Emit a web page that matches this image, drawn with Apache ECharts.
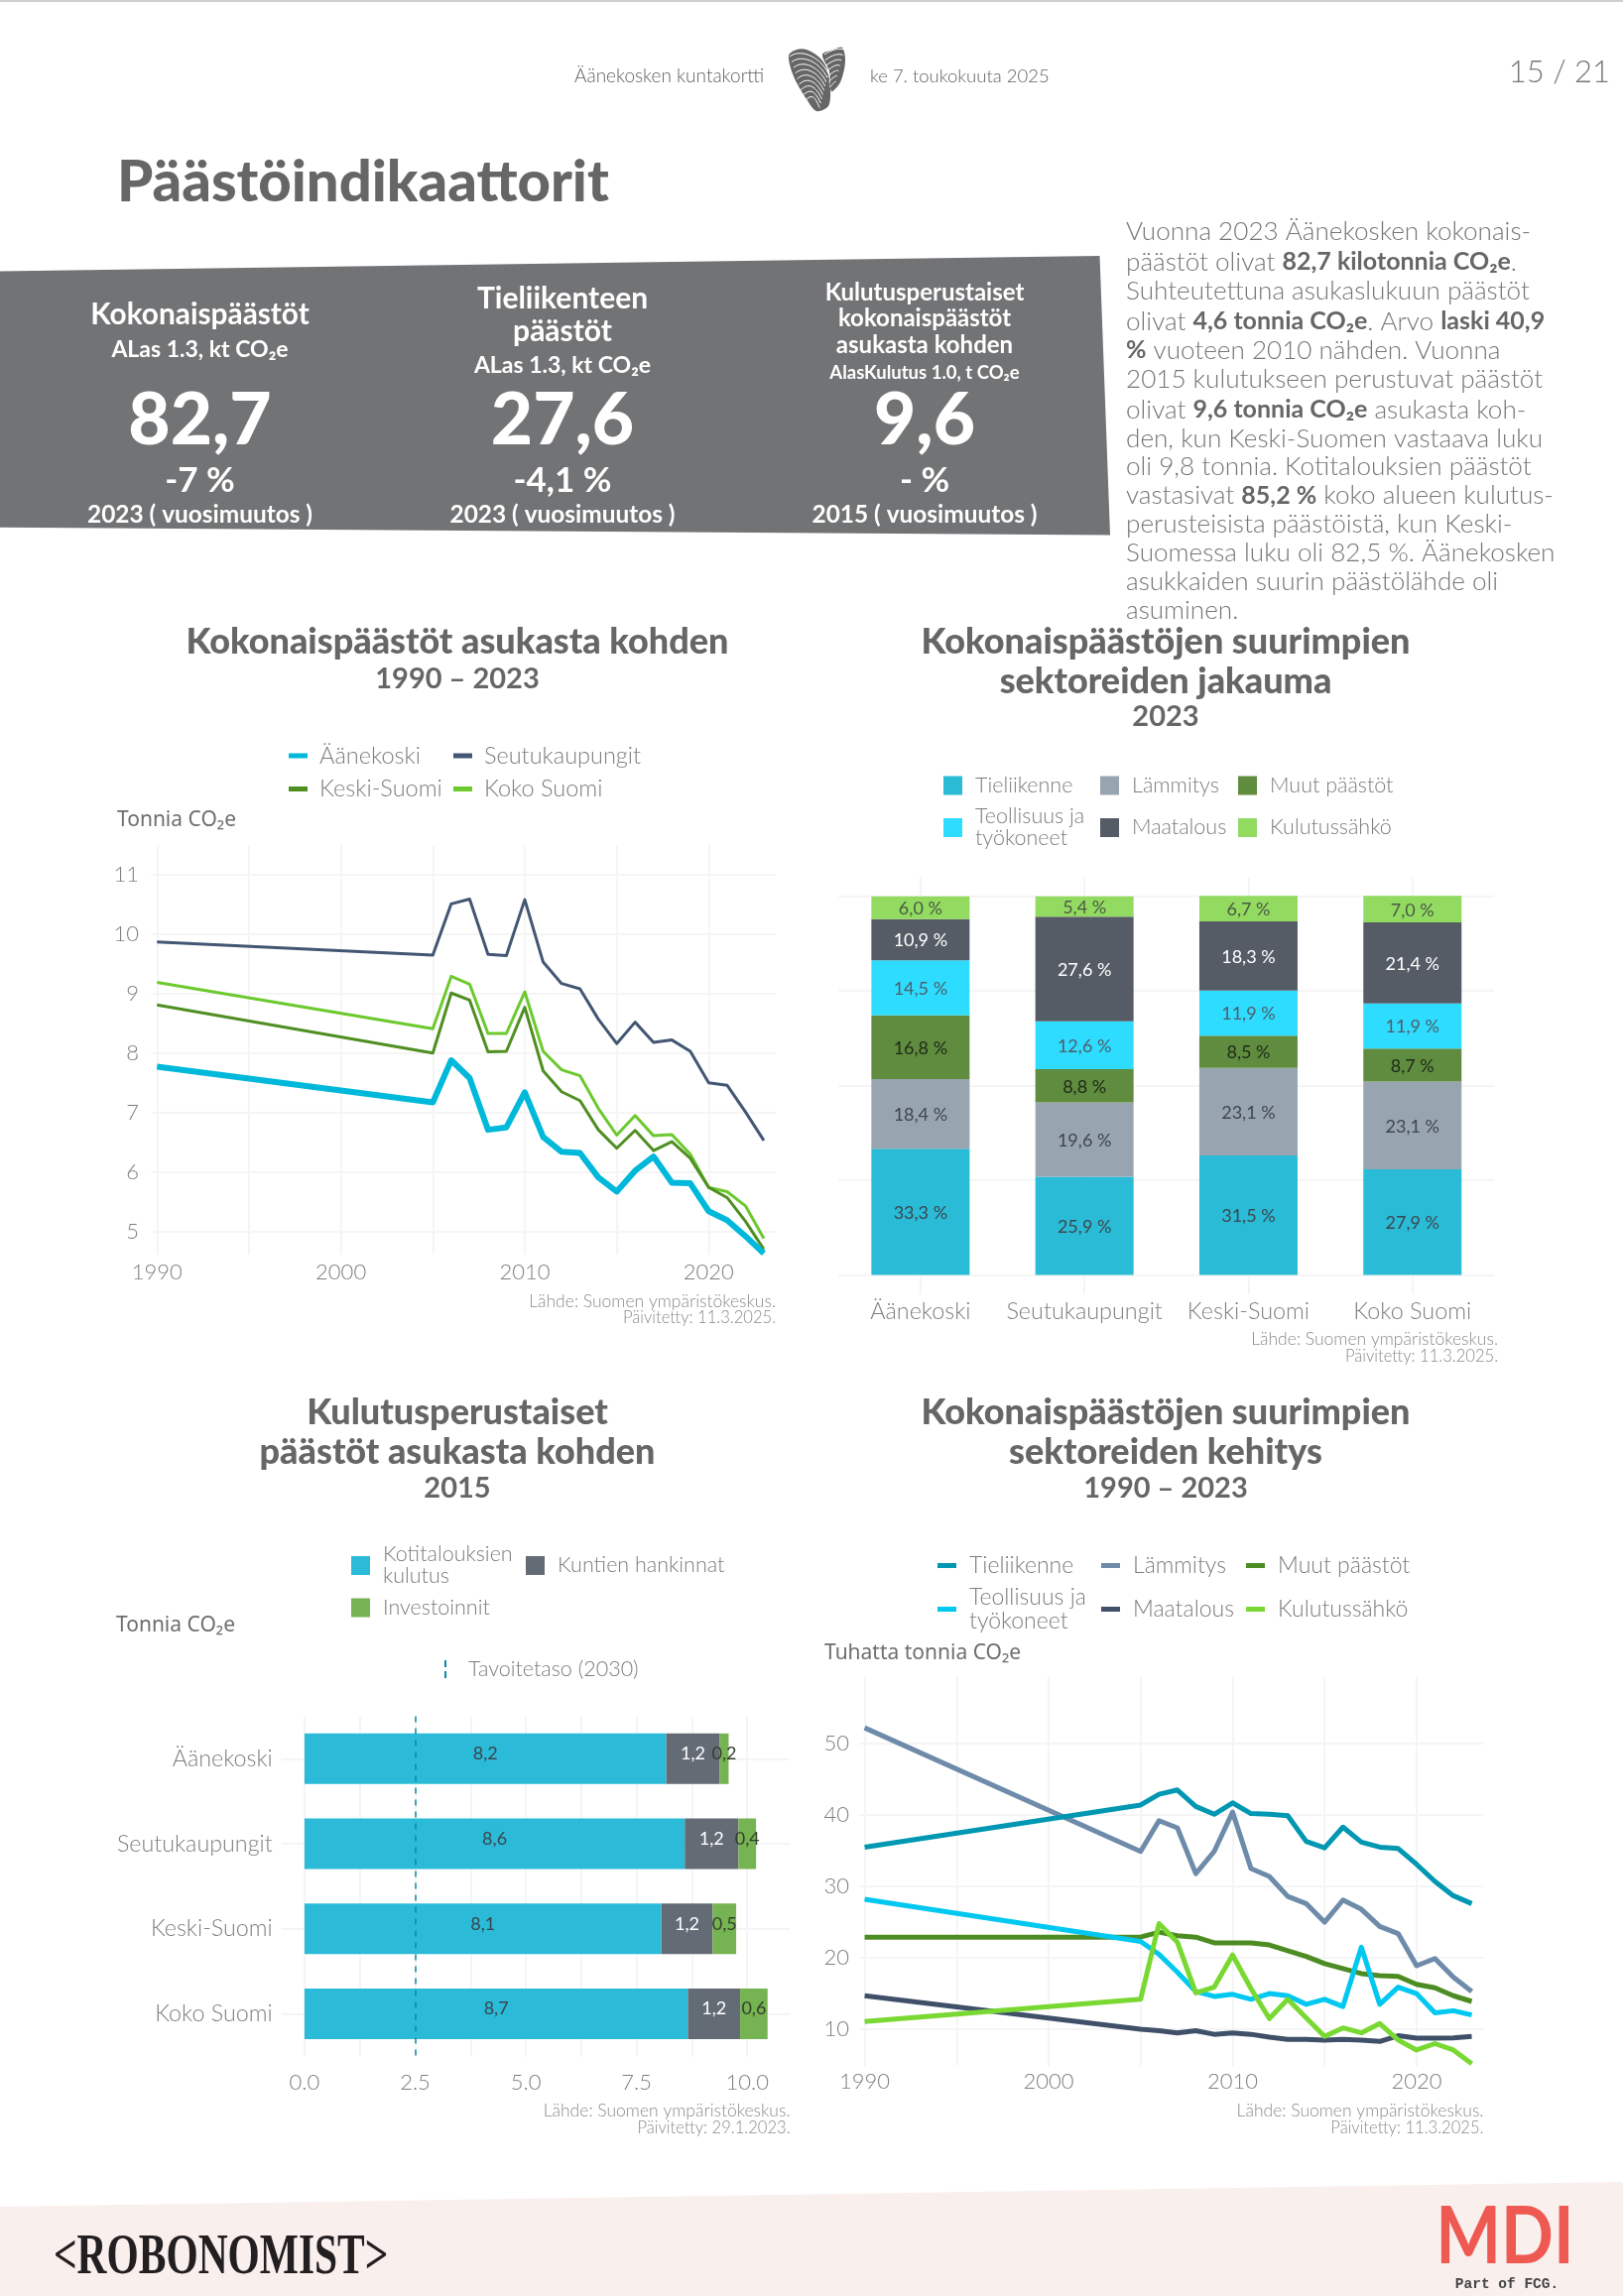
<!DOCTYPE html>
<html lang="fi"><head><meta charset="utf-8"><title>Päästöindikaattorit</title>
<style>html,body{margin:0;padding:0;background:#fff}#c{width:1636px;height:2315px}</style>
<script src="https://cdn.jsdelivr.net/npm/echarts@6/dist/echarts.min.js"></script></head>
<body><div id="c"></div>
<script>
// ---------- data ----------
const years = [1990,2005,2006,2007,2008,2009,2010,2011,2012,2013,2014,2015,2016,2017,2018,2019,2020,2021,2022,2023];
const perCapAanekoski = [7.77,7.17,7.88,7.58,6.71,6.75,7.34,6.59,6.34,6.32,5.91,5.67,6.02,6.26,5.82,5.81,5.34,5.19,4.92,4.63];
const perCapSeutu     = [9.87,9.65,10.51,10.59,9.66,9.64,10.58,9.53,9.17,9.08,8.57,8.16,8.52,8.18,8.22,8.03,7.5,7.46,7.01,6.53];
const perCapKeski     = [8.81,8.0,9.01,8.89,8.02,8.03,8.77,7.7,7.35,7.2,6.71,6.4,6.7,6.36,6.51,6.23,5.74,5.57,5.17,4.7];
const perCapKoko      = [9.19,8.41,9.29,9.16,8.33,8.33,9.03,8.03,7.72,7.62,7.07,6.62,6.95,6.61,6.63,6.3,5.74,5.67,5.43,4.88];

const regions = ['Äänekoski','Seutukaupungit','Keski-Suomi','Koko Suomi'];
const shareTieliikenne = [33.3,25.9,31.5,27.9];
const shareLammitys    = [18.4,19.6,23.1,23.1];
const shareMuut        = [16.8,8.8,8.5,8.7];
const shareTeollisuus  = [14.5,12.6,11.9,11.9];
const shareMaatalous   = [10.9,27.6,18.3,21.4];
const shareSahko       = [6.0,5.4,6.7,7.0];

const consKotitaloudet = [8.17,8.59,8.06,8.66];
const consKunnat       = [1.21,1.21,1.16,1.18];
const consInvestoinnit = [0.2,0.4,0.53,0.62];
const targetLevel = 2.5;

const secTieliikenne = [35.5,41.4,42.9,43.5,41.2,40.1,41.7,40.2,40.1,39.9,36.3,35.4,38.3,36.2,35.5,35.3,33.1,30.7,28.7,27.6];
const secLammitys    = [52.2,34.9,39.2,38.2,31.8,34.9,40.4,32.5,31.4,28.6,27.6,25.0,28.1,26.8,24.4,23.4,18.9,19.9,17.3,15.3];
const secMuut        = [22.9,22.9,23.6,23.1,22.9,22.1,22.1,22.1,21.8,21.0,20.2,19.2,18.5,17.8,17.5,17.4,16.3,15.8,14.7,13.9];
const secTeollisuus  = [28.2,22.3,20.5,18.0,15.3,14.6,14.9,14.2,15.0,14.7,13.5,14.2,13.2,21.5,13.5,15.9,15.0,12.3,12.6,12.0];
const secMaatalous   = [14.7,10.0,9.8,9.5,9.8,9.3,9.5,9.3,8.9,8.6,8.6,8.5,8.6,8.5,8.3,9.1,8.75,8.75,8.8,9.0];
const secSahko       = [11.1,14.2,24.8,22.2,15.1,15.9,20.4,15.7,11.5,14.2,11.6,9.0,10.2,9.5,10.8,8.5,7.1,8.0,7.1,5.2];

const yearTicks = [1990,1995,2000,2005,2010,2015,2020];
const yearLabels = [1990,2000,2010,2020];
const perCapTicks = [5,6,7,8,9,10,11];
const shareTicks = [0,25,50,75,100];
const consTicks = [0,1.25,2.5,3.75,5,6.25,7.5,8.75,10];
const consLabels = [0,2.5,5,7.5,10];
const secTicks = [10,20,30,40,50];

// ---------- style ----------
const F = 'Lato, "Noto Sans", sans-serif';
const GRID = '#f5f5f6';
const TICK = '#7e7e7e';
const sl = {show:true, lineStyle:{color:GRID, width:2}};

function valAxis(gridIndex,min,max,ticks,labels,fmt,fs,margin,extra,pad){
  return Object.assign({type:'value',gridIndex,min,max,axisLine:{show:false},
    axisTick:{show:false,customValues:ticks},splitLine:sl,
    axisLabel:{customValues:labels,formatter:fmt,color:TICK,fontSize:fs,fontFamily:F,fontWeight:300,margin,hideOverlap:false,padding:pad||0}},extra||{});
}
const plain = v => String(v);
const pct = v => v.toFixed(1).replace('.',',')+' %';
const dec = v => v.toFixed(1).replace('.',',');

function lineSeries(name,vals,color,width,idx){
  return {type:'line',name,xAxisIndex:idx,yAxisIndex:idx,data:years.map((y,i)=>[y,vals[i]]),
    showSymbol:false,symbol:'none',smooth:false,lineStyle:{color,width,join:'round'},itemStyle:{color},silent:true};
}
function stackBar(name,vals,color,labelColor,idx,stack,fmt,barWidth,offset,fs){
  return {type:'bar',name,stack,xAxisIndex:idx,yAxisIndex:idx,data:vals,barWidth,silent:true,
    itemStyle:{color},
    label:{show:true,position:'inside',formatter:p=>fmt(p.value),color:labelColor,fontSize:fs,fontFamily:F,fontWeight:400,offset}};
}

// legends: one component per item so the columns line up as in the picture
function leg(name,left,cy,color,w,h,fs,lh,icon,display,gap){
  const lines = display ? display.split('\n').length : 1;
  const H = Math.max(h, lines*lh);
  return {show:true,selectedMode:false,left,top:cy-H/2,padding:0,itemWidth:w,itemHeight:h,orient:'horizontal',
    data:[{name,icon:icon||'rect',itemStyle:{color,borderWidth:0},lineStyle:{width:0}}],
    formatter:()=>display||name,
    textStyle:{color:'#7c7c7c',fontSize:fs,fontFamily:F,fontWeight:300,lineHeight:lh,padding:[0,0,0,gap]}};
}
const TO = 'Teollisuus ja työkoneet', TO2 = 'Teollisuus ja\ntyökoneet';

const legends = [
  leg('Äänekoski',291,762,'#00b8d9',19,5,23.5,24,null,null,7),
  leg('Seutukaupungit',457,762,'#435673',19,5,23.5,24,null,null,7),
  leg('Keski-Suomi',291,795.5,'#4f8f22',19,5,23.5,24,null,null,7),
  leg('Koko Suomi',457,795.5,'#6cc92e',19,5,23.5,24,null,null,7),

  leg('Tieliikenne',951,792,'#2abbd6',19,19,21.5,22,null,null,8),
  leg('Lämmitys',1109,792,'#98a4b0',19,19,21.5,22,null,null,8),
  leg('Muut päästöt',1248,792,'#5f8c3f',19,19,21.5,22,null,null,8),
  leg(TO,951,834.5,'#2edcff',19,19,21.5,22,null,TO2,8),
  leg('Maatalous',1109,834.5,'#565c66',19,19,21.5,22,null,null,8),
  leg('Kulutussähkö',1248,834.5,'#93da61',19,19,21.5,22,null,null,8),

  leg('Kotitalouksien kulutus',354,1578.5,'#2bbbd8',19,19,21.5,22,null,'Kotitalouksien\nkulutus',8),
  leg('Kuntien hankinnat',530,1578.5,'#636b75',19,19,21.5,22,null,null,8),
  leg('Investoinnit',354,1621,'#76b352',19,19,21.5,22,null,null,8),
  leg('Tavoitetaso (2030)',448,1683,'#0a87a8',2,18,21.5,22,'path://M0,0h2v7h-2z M0,11h2v7h-2z',null,17),

  leg('Tieliikenne',945,1578.5,'#0097b2',19,5,23,24,null,null,8),
  leg('Lämmitys',1110,1578.5,'#6e8baa',19,5,23,24,null,null,8),
  leg('Muut päästöt',1256,1578.5,'#4d8c23',19,5,23,24,null,null,8),
  leg(TO,945,1622.5,'#00c8f0',19,5,23,24,null,TO2,8),
  leg('Maatalous',1110,1622.5,'#3f5068',19,5,23,24,null,null,8),
  leg('Kulutussähkö',1256,1622.5,'#79d832',19,5,23,24,null,null,8)
];

// free text
function T(x,y,text,size,weight,fill,align,fam,extra){
  return Object.assign({type:'text',x,y,silent:true,z:5,style:{text,fill:fill||'#666',textAlign:align||'left',textVerticalAlign:'middle',
    fontSize:size,fontWeight:weight||400,fontFamily:fam||F}},extra||{});
}
const bold = {fontSize:25,fontWeight:700,fontFamily:F,fill:'#666'};
function P(y,s){const o=T(1135,y,s,26.1,300,'#757575');o.style.rich={b:bold};return o;}
const W='#fff';
const col=[201.5,567,932];
const paragraph=[
 [233.5,'Vuonna 2023 Äänekosken kokonais-'],
 [264.3,'päästöt olivat {b|82,7 kilotonnia CO₂e}.'],
 [293.3,'Suhteutettuna asukaslukuun päästöt'],
 [324.3,'olivat {b|4,6 tonnia CO₂e}. Arvo {b|laski 40,9}'],
 [353.3,'{b|%} vuoteen 2010 nähden. Vuonna'],
 [382.3,'2015 kulutukseen perustuvat päästöt'],
 [413.3,'olivat {b|9,6 tonnia CO₂e} asukasta koh-'],
 [442.3,'den, kun Keski-Suomen vastaava luku'],
 [471,'oli 9,8 tonnia. Kotitalouksien päästöt'],
 [499.5,'vastasivat {b|85,2 %} koko alueen kulutus-'],
 [528.3,'perusteisista päästöistä, kun Keski-'],
 [557.3,'Suomessa luku oli 82,5 %. Äänekosken'],
 [586.7,'asukkaiden suurin päästölähde oli'],
 [615.7,'asuminen.']
];
const src=(x,y1,y2,d)=>[T(x,y1,'Lähde: Suomen ympäristökeskus.',17.5,300,'#8a8a8a','right'),T(x,y2,'Päivitetty: '+d,16.6,300,'#8a8a8a','right')];

// fingerprint heart logo: two lobes with white ridges
const lobeL=[[795,56],[803,50],[813,50],[825,57],[833,68],[837,90],[835,107],[823,112],[813,100],[800,77]];
const lobeR=[[829,55],[840,50],[849,48],[852,62],[847,83],[838,92],[836,72]];
const ridgeSteps=[0,1,2,3,4,5,6,7,8];
const ridges=[
 ...ridgeSteps.map(k=>[796+k*1.9,57+k*5.6,806+k*1.6,49+k*5.6,826-k*0.6,56+k*5.2,835-k*1.1,74+k*4.3]),
 ...ridgeSteps.slice(0,7).map(k=>[831+k*0.9,55+k*5.5,838+k*0.5,50+k*5.5,846-k*0.6,48+k*5.5,851-k*1.4,50+k*5.4])
];
const graphics=[
 {type:'rect',silent:true,z:0,shape:{x:0,y:0,width:1636,height:2},style:{fill:'#cfcfcf'}},
 {type:'polygon',silent:true,z:0,shape:{points:[[0,273.5],[1108.5,258],[1119,539.6],[0,531.8]]},style:{fill:'#727375'}},
 {type:'polygon',silent:true,z:0,shape:{points:[[0,2225],[1636,2200],[1636,2315],[0,2315]]},style:{fill:'#f9efed'}},
 {type:'polygon',silent:true,z:1,shape:{points:lobeL,smooth:0.3},style:{fill:'#666'}},
 {type:'polygon',silent:true,z:1,shape:{points:lobeR,smooth:0.3},style:{fill:'#666'}},
 ...ridges.map(r=>({type:'bezierCurve',silent:true,z:2,shape:{x1:r[0],y1:r[1],cpx1:r[2],cpy1:r[3],cpx2:r[4],cpy2:r[5],x2:r[6],y2:r[7]},style:{stroke:'#fff',lineWidth:1,fill:null}})),
 T(579,77,'Äänekosken kuntakortti',19,300,'#5f5f5f'),
 T(877,77,'ke 7. toukokuuta 2025',18.5,300,'#5f5f5f'),
 T(1623,73,'15 / 21',31,300,'#777','right'),
 T(118,184,'Päästöindikaattorit',58,900,'#666'),
 T(col[0],317.6,'Kokonaispäästöt',29.8,700,W,'center'),
 T(col[0],353,'ALas 1.3, kt CO₂e',23,700,W,'center'),
 T(col[1],301,'Tieliikenteen',30,700,W,'center'),
 T(col[1],334,'päästöt',30,700,W,'center'),
 T(col[1],369,'ALas 1.3, kt CO₂e',23,700,W,'center'),
 T(col[2],295,'Kulutusperustaiset',24,700,W,'center'),
 T(col[2],321,'kokonaispäästöt',24,700,W,'center'),
 T(col[2],348,'asukasta kohden',24,700,W,'center'),
 T(col[2],376,'AlasKulutus 1.0, t CO₂e',18.5,700,W,'center'),
 T(col[0],424,'82,7',73,900,W,'center'),T(col[1],424,'27,6',73,900,W,'center'),T(col[2],424,'9,6',73,900,W,'center'),
 T(col[0],484.5,'-7 %',35,700,W,'center'),T(col[1],484.5,'-4,1 %',35,700,W,'center'),T(col[2],484.5,'- %',35,700,W,'center'),
 T(col[0],519,'2023 ( vuosimuutos )',24.4,700,W,'center'),T(col[1],519,'2023 ( vuosimuutos )',24.4,700,W,'center'),T(col[2],519,'2015 ( vuosimuutos )',24.4,700,W,'center'),
 ...paragraph.map(p=>P(p[0],p[1])),
 T(118,827.5,'Tonnia CO₂e',21,400,'#6e6e6e','left','"Noto Sans"'),
 T(117,1639.5,'Tonnia CO₂e',21,400,'#6e6e6e','left','"Noto Sans"'),
 T(831,1667.5,'Tuhatta tonnia CO₂e',21,400,'#6e6e6e','left','"Noto Sans"'),
 ...src(782,1312,1329,'11.3.2025.'),
 ...src(1510,1350,1367.7,'11.3.2025.'),
 ...src(796.5,2128.4,2145.5,'29.1.2023.'),
 ...src(1495.4,2128.6,2145.7,'11.3.2025.'),
 T(54,2278,'<ROBONOMIST>',56,700,'#231f20','left','"Liberation Serif"',{scaleX:0.74}),
 T(1517,2256.5,'MDI',80,700,'#ee5a52','center',F,{scaleX:0.87}),
 T(1519,2303,'Part of FCG.',14.5,700,'#444','center','"Liberation Mono"')
];

const titleLines=[
 [461,647.5,'Kokonaispäästöt asukasta kohden',36,900],[461,684.5,'1990 – 2023',29,700],
 [1175,647.5,'Kokonaispäästöjen suurimpien',36,900],[1175,687.5,'sektoreiden jakauma',36,900],[1175,723,'2023',29,700],
 [461,1424,'Kulutusperustaiset',36,900],[461,1464,'päästöt asukasta kohden',36,900],[461,1501,'2015',29,700],
 [1175,1424,'Kokonaispäästöjen suurimpien',36,900],[1175,1464,'sektoreiden kehitys',36,900],[1175,1501,'1990 – 2023',29,700]
];

const downPad=[3,0,0,0];
const option={
 animation:false,backgroundColor:'#fff',
 title:titleLines.map(t=>({text:t[2],left:t[0],top:t[1],textAlign:'center',textVerticalAlign:'middle',padding:0,
   textStyle:{fontFamily:F,fontSize:t[3],fontWeight:t[4],color:'#666'}})),
 legend:legends,
 graphic:graphics,
 grid:[
  {left:152.7,top:852.6,width:629.3,height:412.4},
  {left:845.2,top:884.6,width:661.2,height:420.4},
  {left:283.7,top:1730.4,width:512.8,height:343.1},
  {left:866,top:1691,width:629.4,height:391.9}
 ],
 xAxis:[
  valAxis(0,1989.7,2023.65,yearTicks,yearLabels,plain,22,7),
  {type:'category',gridIndex:1,data:regions,axisLine:{show:false},axisTick:{show:false,alignWithLabel:true},
   splitLine:{show:true,alignWithLabel:true,lineStyle:{color:GRID,width:2}},
   axisLabel:{color:TICK,fontSize:23.4,fontFamily:F,fontWeight:300,margin:6,interval:0}},
  valAxis(2,-0.52,10.97,consTicks,consLabels,v=>v.toFixed(1),22,15),
  valAxis(3,1989.7,2023.64,yearTicks,yearLabels,plain,22,5)
 ],
 yAxis:[
  valAxis(0,4.61,11.49,perCapTicks,perCapTicks,plain,22,12.7,null,downPad),
  valAxis(1,-5.1,104.9,shareTicks,shareTicks,plain,22,0,{axisLabel:{show:false}}),
  {type:'category',gridIndex:2,data:regions,inverse:true,axisLine:{show:false},axisTick:{show:false,alignWithLabel:true},
   splitLine:{show:true,alignWithLabel:true,lineStyle:{color:GRID,width:2}},
   axisLabel:{color:TICK,fontSize:23.3,fontFamily:F,fontWeight:300,margin:9,interval:0,padding:downPad}},
  valAxis(3,4.89,59.3,secTicks,secTicks,plain,22,10,null,downPad)
 ],
 series:[
  lineSeries('Seutukaupungit',perCapSeutu,'#435673',3,0),
  lineSeries('Koko Suomi',perCapKoko,'#6cc92e',3,0),
  lineSeries('Keski-Suomi',perCapKeski,'#4f8f22',3,0),
  lineSeries('Äänekoski',perCapAanekoski,'#00b8d9',6,0),

  stackBar('Tieliikenne',shareTieliikenne,'#2abbd6','#3d4750',1,'s',pct,99,[0,1],18),
  stackBar('Lämmitys',shareLammitys,'#98a4b0','#3d4750',1,'s',pct,99,[0,1],18),
  stackBar('Muut päästöt',shareMuut,'#5f8c3f','#1e2a18',1,'s',pct,99,[0,1],18),
  stackBar(TO,shareTeollisuus,'#2edcff','#4d5f6a',1,'s',pct,99,[0,1],18),
  stackBar('Maatalous',shareMaatalous,'#565c66','#fff',1,'s',pct,99,[0,1],18),
  stackBar('Kulutussähkö',shareSahko,'#93da61','#4a5a44',1,'s',pct,99,[0,1],18),

  stackBar('Kotitalouksien kulutus',consKotitaloudet,'#2bbbd8','#3a4650',2,'k',dec,51,[0,-5],18),
  stackBar('Kuntien hankinnat',consKunnat,'#636b75','#fff',2,'k',dec,51,[0,-5],18),
  stackBar('Investoinnit',consInvestoinnit,'#76b352','#33402c',2,'k',dec,51,[0,-5],18),
  {type:'line',name:'Tavoitetaso (2030)',xAxisIndex:2,yAxisIndex:2,data:[],silent:true,itemStyle:{color:'#0a87a8'},
   markLine:{silent:true,symbol:'none',label:{show:false},lineStyle:{color:'#0a87a8',type:[6,6],width:1.5},data:[{xAxis:targetLevel}]}},

  lineSeries('Maatalous',secMaatalous,'#3f5068',5,3),
  lineSeries('Lämmitys',secLammitys,'#6e8baa',5,3),
  lineSeries('Tieliikenne',secTieliikenne,'#0097b2',5,3),
  lineSeries('Muut päästöt',secMuut,'#4d8c23',5,3),
  lineSeries(TO,secTeollisuus,'#00c8f0',5,3),
  lineSeries('Kulutussähkö',secSahko,'#79d832',5,3)
 ]
};
echarts.init(document.getElementById('c')).setOption(option);
</script></body></html>
